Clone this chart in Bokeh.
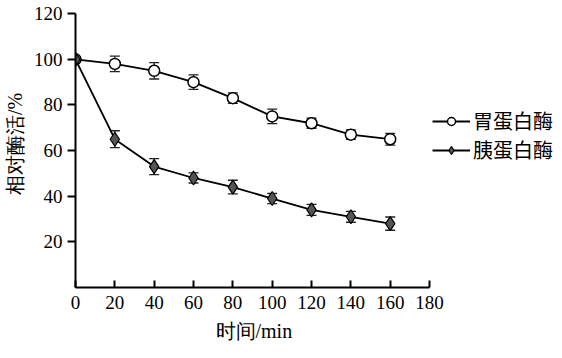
from bokeh.plotting import figure
from bokeh.models import Range1d, Legend, LegendItem, ColumnDataSource, Whisker, TeeHead, FixedTicker, Title
from bokeh.embed import file_html
from bokeh.resources import INLINE

time_min = [0, 20, 40, 60, 80, 100, 120, 140, 160]
pepsin = [100, 98, 95, 90, 83, 75, 72, 67, 65]
pepsin_err = [1.0, 3.4, 3.6, 3.2, 2.3, 3.2, 2.2, 2.1, 2.6]
trypsin = [100, 65, 53, 48, 44, 39, 34, 31, 28]
trypsin_err = [1.0, 3.7, 3.5, 2.2, 3.0, 2.2, 2.4, 2.4, 2.9]
x_ticks = [0, 20, 40, 60, 80, 100, 120, 140, 160, 180]
y_ticks = [20, 40, 60, 80, 100, 120]
names = ["胃蛋白酶", "胰蛋白酶"]
x_title = "时间/min"
y_title = "相对酶活/%"

SERIF = "Liberation Serif"

p = figure(width=562, height=358, output_backend="svg", toolbar_location=None,
           x_range=Range1d(0, 247.6), y_range=Range1d(0, 125.8),
           min_border_left=75, min_border_right=0, min_border_top=0, min_border_bottom=71)
p.outline_line_color = None
p.xgrid.visible = False
p.ygrid.visible = False

for ax in (p.xaxis[0], p.yaxis[0]):
    ax.axis_line_width = 2
    ax.major_tick_line_width = 2
    ax.minor_tick_line_color = None
    ax.major_label_text_font = SERIF
    ax.major_label_text_font_size = "19px"
    ax.major_label_text_color = "black"
    ax.axis_label_text_font = SERIF
    ax.axis_label_text_font_style = "normal"
    ax.axis_label_text_color = "black"

p.xaxis.bounds = (0, 180)
p.xaxis.ticker = FixedTicker(ticks=x_ticks)
p.xaxis.major_tick_in = 7
p.xaxis.major_tick_out = 0
p.xaxis.major_label_standoff = 8

p.yaxis.bounds = (0, 120)
p.yaxis.ticker = FixedTicker(ticks=y_ticks)
p.yaxis.major_tick_in = 0
p.yaxis.major_tick_out = 8
p.yaxis.major_label_standoff = 5
p.yaxis.axis_label = y_title
p.yaxis.axis_label_text_font_size = "20px"
p.yaxis.axis_label_standoff = 5

# x-axis title, centred under the bounded axis (0-180)
p.add_layout(Title(text=x_title, align="left", offset=140, standoff=13,
                   text_font=SERIF, text_font_size="20px", text_font_style="normal",
                   text_color="black"), "below")

src1 = ColumnDataSource(dict(x=time_min, y=pepsin,
                             lo=[v - e for v, e in zip(pepsin, pepsin_err)],
                             hi=[v + e for v, e in zip(pepsin, pepsin_err)]))
src2 = ColumnDataSource(dict(x=time_min, y=trypsin,
                             lo=[v - e for v, e in zip(trypsin, trypsin_err)],
                             hi=[v + e for v, e in zip(trypsin, trypsin_err)]))

for src in (src1, src2):
    w = Whisker(source=src, base="x", lower="lo", upper="hi", line_color="#222222", line_width=1.3,
                upper_head=TeeHead(size=10, line_color="#222222", line_width=1.3),
                lower_head=TeeHead(size=10, line_color="#222222", line_width=1.3))
    p.add_layout(w)

l1 = p.line("x", "y", source=src1, line_color="black", line_width=1.8)
m1 = p.scatter("x", "y", source=src1, marker="circle", size=11, fill_color="white",
               line_color="black", line_width=1.5)
l2 = p.line("x", "y", source=src2, line_color="black", line_width=1.8)
m2 = p.scatter("x", "y", source=src2, marker="diamond", size=14, fill_color="#555555",
               line_color="black", line_width=1.2)

legend = Legend(items=[LegendItem(label=names[0], renderers=[l1, m1]),
                       LegendItem(label=names[1], renderers=[l2, m2])],
                location=(357, 123), orientation="vertical",
                glyph_width=38, glyph_height=20, label_height=20, spacing=0,
                label_standoff=3, padding=0, margin=0,
                border_line_color=None, background_fill_alpha=0,
                label_text_font="Noto Sans CJK SC", label_text_font_size="20px",
                label_text_line_height=1.0,
                label_text_color="black")
p.add_layout(legend)

open("out.html", "w").write(file_html(p, INLINE))
